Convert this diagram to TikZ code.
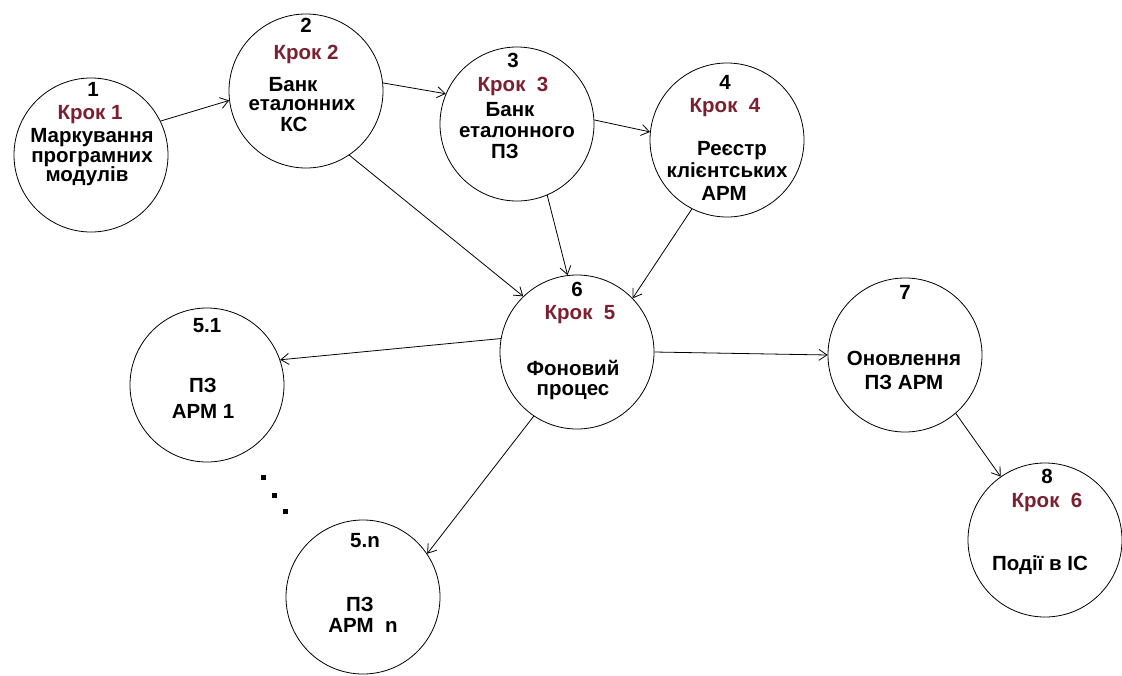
\documentclass[tikz,border=0pt]{standalone}
\usepackage{fontspec}
\setmainfont{Liberation Sans}
\usetikzlibrary{arrows.meta}
\definecolor{stepred}{RGB}{122,32,48}
\begin{document}
\begin{tikzpicture}[x=1pt,y=-1pt,
  stage/.style={draw,circle,minimum size=154pt,inner sep=0pt,line width=0.8pt},
  txt/.style={font=\bfseries\fontsize{20.5}{22}\selectfont,anchor=mid,inner sep=0pt},
  krok/.style={txt,text=stepred},
  flow/.style={line width=0.8pt,-{Straight Barb[length=8pt,width=11pt]}},
  dot/.style={fill=black,inner sep=0pt,minimum size=5pt,rectangle}]
\useasboundingbox[fill=white] (0,0) rectangle (1122,675);

% stages
\node[stage] (c1)  at (91,155)  {};
\node[stage] (c2)  at (306,91)  {};
\node[stage] (c3)  at (517,124) {};
\node[stage] (c4)  at (727,140) {};
\node[stage] (c6)  at (577,352) {};
\node[stage] (c51) at (207,385) {};
\node[stage] (c7)  at (905,355) {};
\node[stage] (c8)  at (1045,540) {};
\node[stage] (c5n) at (363,597) {};

% labels of stage 1
\node[txt]  (n1)  at (93,94)  {1};
\node[krok] (k1)  at (90,117) {Крок 1};
\node[txt]  (a1)  at (92,140) {Маркування};
\node[txt]  (b1)  at (92,160) {програмних};
\node[txt]  (d1)  at (87,179) {модулів};

% labels of stage 2
\node[txt]  (n2)  at (306,30)  {2};
\node[krok] (k2)  at (306,57)  {Крок 2};
\node[txt]  (a2)  at (293,89)  {Банк};
\node[txt]  (b2)  at (302,108) {еталонних};
\node[txt]  (d2)  at (294,129) {КС};

% labels of stage 3
\node[txt]  (n3)  at (513,65)  {3};
\node[krok] (k3)  at (513,89)  {Крок\ \ 3};
\node[txt]  (a3)  at (510,114) {Банк};
\node[txt]  (b3)  at (517,135) {еталонного};
\node[txt]  (d3)  at (505,156) {ПЗ};

% labels of stage 4
\node[txt]  (n4)  at (725,87)  {4};
\node[krok] (k4)  at (725,110) {Крок\ \ 4};
\node[txt]  (a4)  at (732,153) {Реєстр};
\node[txt]  (b4)  at (727,175) {клієнтських};
\node[txt]  (d4)  at (724,198) {АРМ};

% labels of the background process
\node[txt]  (n6)  at (577,294) {6};
\node[krok] (k6)  at (580,317) {Крок\ \ 5};
\node[txt]  (a6)  at (573,373) {Фоновий};
\node[txt]  (b6)  at (573,393) {процес};

% labels of workstation 1
\node[txt]  (n51) at (207,330) {5.1};
\node[txt]  (a51) at (203,390) {ПЗ};
\node[txt]  (b51) at (203,416) {АРМ 1};

% labels of the update stage
\node[txt]  (n7)  at (905,297) {7};
\node[txt]  (a7)  at (904,363) {Оновлення};
\node[txt]  (b7)  at (904,387) {ПЗ АРМ};

% labels of stage 8
\node[txt]  (n8)  at (1047,481) {8};
\node[krok] (k8)  at (1047,505) {Крок\ \ 6};
\node[txt]  (a8)  at (1040,568) {Події в ІС};

% labels of workstation n
\node[txt]  (n5n) at (365,545) {5.n};
\node[txt]  (a5n) at (360,609) {ПЗ};
\node[txt]  (b5n) at (363,630) {АРМ\ \ n};

% ellipsis between the workstations
\node[dot] (e1) at (263,477) {};
\node[dot] (e2) at (274,495) {};
\node[dot] (e3) at (285,511) {};

% data flow
\draw[flow] (c1.26)   -- (c2.187);
\draw[flow] (c2.6)    -- (c3.157);
\draw[flow] (c3.3)    -- (c4.174);
\draw[flow] (c2.-56)  -- (c6.134);
\draw[flow] (c3.-67)  -- (c6.97);
\draw[flow] (c4.-117) -- (c6.44);
\draw[flow] (c6.170)  -- (c51.19);
\draw[flow] (c6.0)    -- (c7.180);
\draw[flow] (c6.236)  -- (c5n.34);
\draw[flow] (c7.-49)  -- (c8.125);
\end{tikzpicture}
\end{document}
